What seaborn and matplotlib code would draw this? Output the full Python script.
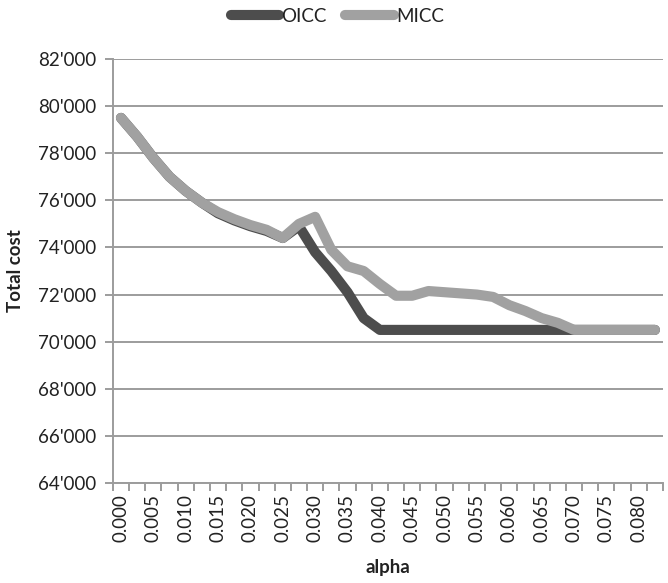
import matplotlib
matplotlib.use("Agg")
import matplotlib.pyplot as plt
from matplotlib.ticker import FixedLocator, FuncFormatter
from matplotlib.lines import Line2D
import pandas as pd
import seaborn as sns

# alpha categories (one every 0.0025)
alpha = [0.0000, 0.0025, 0.0050, 0.0075, 0.0100, 0.0125, 0.0150, 0.0175,
         0.0200, 0.0225, 0.0250, 0.0275, 0.0300, 0.0325, 0.0350, 0.0375,
         0.0400, 0.0425, 0.0450, 0.0475, 0.0500, 0.0525, 0.0550, 0.0575,
         0.0600, 0.0625, 0.0650, 0.0675, 0.0700, 0.0725, 0.0750, 0.0775,
         0.0800, 0.0825]

oicc = [79500, 78700, 77800, 77000, 76400, 75900, 75450, 75150,
        74900, 74700, 74400, 74900, 73800, 73000, 72100, 71000,
        70500, 70500, 70500, 70500, 70500, 70500, 70500, 70500,
        70500, 70500, 70500, 70500, 70500, 70500, 70500, 70500,
        70500, 70500]

micc = [79500, 78700, 77800, 77000, 76400, 75900, 75500, 75200,
        74950, 74750, 74400, 75000, 75300, 73900, 73200, 73000,
        72450, 71950, 71950, 72150, 72100, 72050, 72000, 71900,
        71550, 71300, 71000, 70800, 70500, 70500, 70500, 70500,
        70500, 70500]

series_names = ["OICC", "MICC"]
series_colors = ["#4d4d4d", "#a1a1a1"]
x_labels = ["0.000", "0.005", "0.010", "0.015", "0.020", "0.025", "0.030",
            "0.035", "0.040", "0.045", "0.050", "0.055", "0.060", "0.065",
            "0.070", "0.075", "0.080"]
y_ticks = [64000, 66000, 68000, 70000, 72000, 74000, 76000, 78000, 80000, 82000]

df = pd.DataFrame({
    "alpha": alpha * 2,
    "cost": oicc + micc,
    "series": ["OICC"] * len(alpha) + ["MICC"] * len(alpha),
})

sns.set_style("white")
plt.rcParams["font.family"] = ["Lato", "DejaVu Sans"]

fig = plt.figure(figsize=(6.68, 5.83), dpi=100)
ax = fig.add_axes([0.169, 0.1715, 0.8235, 0.7273])

grid_c = "#9c9c9c"
for yv in y_ticks:
    ax.axhline(yv, color=grid_c, lw=1.4, zorder=0)

sns.lineplot(data=df, x="alpha", y="cost", hue="series",
             hue_order=series_names, palette=series_colors,
             linewidth=7.3, legend=False, ax=ax, sort=False,
             solid_capstyle="round", solid_joinstyle="round", zorder=3)

step = 0.0025
ax.set_xlim(alpha[0] - step / 2, alpha[-1] + step / 2)
ax.set_ylim(64000, 82000)

# category labels every other category, tick marks between categories
ax.xaxis.set_major_locator(FixedLocator([alpha[i] for i in range(0, 33, 2)]))
ax.set_xticklabels(x_labels, rotation=90)
ax.xaxis.set_minor_locator(FixedLocator([a - step / 2 for a in alpha] + [alpha[-1] + step / 2]))
ax.tick_params(axis="x", which="major", length=0, pad=8, labelsize=13.5, labelcolor="#222222")
ax.tick_params(axis="x", which="minor", length=6, width=1.4, color=grid_c, direction="out", bottom=True)

ax.yaxis.set_major_locator(FixedLocator(y_ticks))
ax.yaxis.set_major_formatter(FuncFormatter(lambda v, p: f"{int(v):,}".replace(",", "'")))
ax.tick_params(axis="y", length=6, width=1.4, color=grid_c, direction="out", left=True,
               pad=6, labelsize=13.5, labelcolor="#222222")

for s in ["top", "right"]:
    ax.spines[s].set_visible(False)
for s in ["left", "bottom"]:
    ax.spines[s].set_color(grid_c)
    ax.spines[s].set_linewidth(1.4)

ax.set_xlabel("alpha", fontsize=13.5, fontweight="bold", color="#222222", labelpad=12)
ax.set_ylabel("Total cost", fontsize=13.5, fontweight="bold", color="#222222", labelpad=10)

handles = [Line2D([0], [0], color=c, lw=7.3, solid_capstyle="round") for c in series_colors]
fig.legend(handles, series_names, loc="center", bbox_to_anchor=(0.505, 0.972), ncol=2,
           frameon=False, fontsize=13.5, handlelength=2.6, handletextpad=0.1,
           columnspacing=1.0, labelcolor="#222222")

fig.savefig("out.png", dpi=100)
